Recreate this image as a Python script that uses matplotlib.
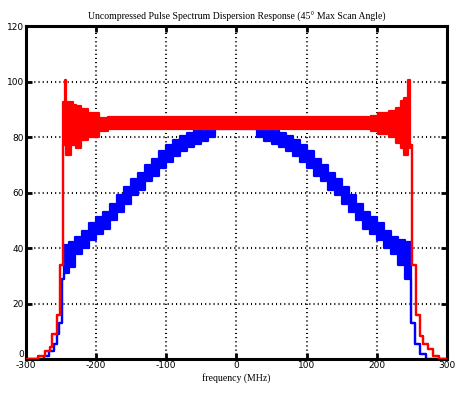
import matplotlib
matplotlib.use('Agg')
import matplotlib.pyplot as plt

# 红线：频率分段起点 (MHz) 及每段的下/上包络
red_freq = [-300, -282, -272, -265, -262, -256, -252,
            -247, -244.5, -242.5, -236, -233, -229, -222, -212, -196, -183,
            192, 202, 217, 227, 234, 239, 244, 247,
            250, 256, 261, 266, 273, 280, 289, 300]
red_lo = [0, 1, 3, 4.5, 9, 16, 34,
          77, 77, 73.5, 77, 77, 76, 79, 80, 82, 82.8,
          82, 81, 80, 78, 76, 73.5, 76, 77,
          34, 16, 8.3, 5.4, 3.6, 1, 0, 0]
red_hi = [0, 1, 3, 4.5, 9, 16, 34,
          92.5, 100.5, 92.5, 92.5, 91.5, 91, 90, 88.5, 87, 87.2,
          87.5, 88.5, 89.5, 90.6, 92.8, 94, 100.5, 77,
          34, 16, 8.3, 5.4, 3.6, 1, 0, 0]

# 蓝线
blue_freq = [-300, -274, -267, -260, -256, -253, -248,
             -246, -238, -230, -220, -210, -200, -190, -180, -170, -160, -150,
             -140, -130, -120, -110, -100, -90, -80, -70, -60, -50, -40, -30,
             30, 40, 50, 60, 70, 80, 90, 100, 110, 120, 130, 140,
             150, 160, 170, 180, 190, 200, 210, 220, 230, 240,
             249, 254, 262, 270, 300]
blue_lo = [0, 1, 3, 5.4, 9, 13, 29,
           31, 33, 38, 40, 43, 45, 47, 50, 53, 56, 59,
           61, 64, 66, 69, 71, 73, 75, 76.5, 77.5, 78.5, 80, 83,
           80, 78.5, 77.5, 76.5, 75, 73, 71, 69, 66, 64, 61, 59,
           56, 53, 50, 47, 45, 43, 40, 38, 34, 29,
           13, 5.4, 1.8, 0, 0]
blue_hi = [0, 1, 3, 5.4, 9, 13, 29,
           41, 42, 44, 46, 49, 51, 53, 56, 59, 62, 65,
           67, 70, 72, 75, 77, 79, 80.5, 81.5, 82.5, 83, 84, 85,
           84, 83, 82.5, 81.5, 80.5, 79, 77, 75, 72, 70, 67, 65,
           62, 59, 56, 53, 51, 49, 46, 44, 43, 42,
           13, 5.4, 1.8, 0, 0]

x_ticks = [-300, -200, -100, 0, 100, 200, 300]
y_ticks = [0, 20, 40, 60, 80, 100, 120]

fig = plt.figure(figsize=(4.7, 3.94), dpi=100)
ax = fig.add_axes([0.0549, 0.0888, 0.8962, 0.8452])

# 先画蓝线，红线盖在上面
z = 2
for f, lo, hi, c in [(blue_freq, blue_lo, blue_hi, '#0000ff'),
                     (red_freq, red_lo, red_hi, '#ff0000')]:
    ax.fill_between(f, lo, hi, step='post', color=c, lw=0, zorder=z)
    ax.step(f, lo, where='post', color=c, lw=1.6, zorder=z)
    ax.step(f, hi, where='post', color=c, lw=1.6, zorder=z)
    z += 1

ax.set_xlim(-300, 300)
ax.set_ylim(0, 120)
ax.set_xticks(x_ticks)
ax.set_yticks(y_ticks)
ax.set_xticklabels([str(v) for v in x_ticks])
ax.set_yticklabels([str(v) for v in y_ticks])

# 网格：黑色点线
ax.set_axisbelow(True)
ax.grid(True, color='black', lw=1.5, linestyle=(0, (0.5, 1.5)))

for s in ax.spines.values():
    s.set_linewidth(2.2)
ax.tick_params(direction='in', length=4, width=2, top=True, right=True,
               labelsize=6.5, pad=1.5)
for lab in ax.get_xticklabels() + ax.get_yticklabels():
    lab.set_family('DejaVu Sans')
# y 轴的 0 稍微上移，避免和 -300 重叠
ax.get_yticklabels()[0].set_verticalalignment('bottom')

ax.set_title('Uncompressed Pulse Spectrum Dispersion Response (45° Max Scan Angle)',
             fontsize=7, family='Liberation Serif', pad=4.5)
ax.set_xlabel('frequency (MHz)', fontsize=7, family='Liberation Serif', labelpad=2)

fig.savefig('out.png', dpi=100)
